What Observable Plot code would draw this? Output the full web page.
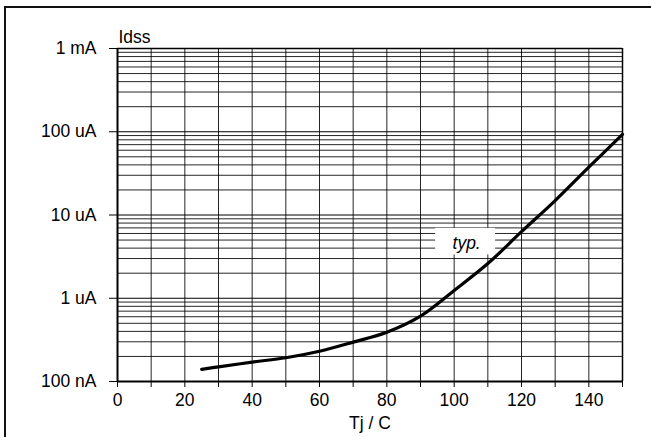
<!DOCTYPE html>
<html>
<head>
<meta charset="utf-8">
<script src="https://cdn.jsdelivr.net/npm/d3@7"></script>
<script src="https://cdn.jsdelivr.net/npm/@observablehq/plot@0.6"></script>
<style>
  html, body { margin: 0; padding: 0; background: #fff; }
  #wrap { position: relative; width: 651px; height: 437px; overflow: hidden; }
  #border { position: absolute; left: 4px; top: 6px; width: 700px; height: 500px;
            border-left: 2px solid #111; border-top: 2px solid #111; pointer-events: none; }
  #chart { position: absolute; left: 0; top: 0; }
</style>
</head>
<body>
<div id="wrap"><div id="chart"></div><div id="border"></div></div>
<script>
// Junction temperature (°C) and typical drain leakage current Idss (A)
const tj   = [25, 30, 40, 50, 60, 70, 80, 90, 100, 110, 120, 130, 140, 150];
const idss = [1.40e-7, 1.50e-7, 1.71e-7, 1.93e-7, 2.31e-7, 2.97e-7, 3.91e-7, 6.1e-7,
              1.24e-6, 2.61e-6, 6.3e-6, 1.49e-5, 3.75e-5, 9.3e-5];

const yTickValues = [1e-7, 1e-6, 1e-5, 1e-4, 1e-3];
const yTickLabels = ["100 nA", "1 uA", "10 uA", "100 uA", "1 mA"];
const xTickValues = [0, 20, 40, 60, 80, 100, 120, 140];
const xMinorTicks = [10, 30, 50, 70, 90, 110, 130, 150];
const xGrid = [10, 20, 30, 40, 50, 60, 70, 80, 90, 100, 110, 120, 130, 140];
const xTitle = "Tj / C";
const yTitle = "Idss";
const curveLabel = "typ.";
const curveLabelX = 103.7;
const curveLabelY = 4.6e-6;

const FS = 17.5;
const data = tj.map((t, i) => ({t, i: idss[i]}));
const labelMap = new Map(yTickValues.map((v, i) => [v, yTickLabels[i]]));
const minorY = yTickValues.slice(0, -1).flatMap(d => d3.range(2, 10).map(k => d * k));

const chart = Plot.plot({
  width: 651, height: 437,
  marginLeft: 117, marginRight: 29, marginTop: 48, marginBottom: 56,
  x: {domain: [0, 150]},
  y: {type: "log", domain: [1e-7, 1e-3]},
  style: {fontFamily: "'Liberation Sans', Arial, sans-serif", fontSize: FS + "px", background: "transparent", color: "#000"},
  marks: [
    Plot.ruleY(minorY, {stroke: "#000", strokeWidth: 1, strokeOpacity: 0.85}),
    Plot.ruleY(yTickValues, {stroke: "#000", strokeWidth: 1}),
    Plot.ruleX(xGrid, {stroke: "#000", strokeWidth: 1, strokeOpacity: 0.85}),
    Plot.ruleX([150], {stroke: "#000", strokeWidth: 1.5}),
    Plot.ruleY([1e-3], {stroke: "#000", strokeWidth: 1.5}),
    Plot.ruleX([0], {stroke: "#000", strokeWidth: 2}),
    Plot.ruleY([1e-7], {stroke: "#000", strokeWidth: 2}),
    Plot.rect([{x: curveLabelX, y: curveLabelY}], {
      x1: d => d.x - 9.2, x2: d => d.x + 8.6,
      y1: d => d.y * 0.72, y2: d => d.y * 1.5, fill: "#fff"
    }),
    Plot.text([curveLabel], {x: curveLabelX, y: curveLabelY, text: d => d, fontStyle: "italic", fontSize: FS, fill: "#000"}),
    Plot.line(data, {x: "t", y: "i", curve: "catmull-rom", stroke: "#000", strokeWidth: 3.2}),
    Plot.axisY(yTickValues, {tickSize: 8, tickPadding: 13, fontSize: FS, tickFormat: d => labelMap.get(d), label: null}),
    Plot.axisX(xMinorTicks, {tickSize: 6, tickFormat: () => "", label: null}),
    Plot.axisX(xTickValues, {tickSize: 6, tickPadding: 6, fontSize: FS, label: xTitle, labelArrow: "none", labelAnchor: "center", labelOffset: 47}),
    Plot.text([yTitle], {frameAnchor: "top-left", text: d => d, fontSize: FS, textAnchor: "start", lineAnchor: "bottom", dx: 1, dy: -6})
  ]
});
document.getElementById("chart").appendChild(chart);
</script>
</body>
</html>
